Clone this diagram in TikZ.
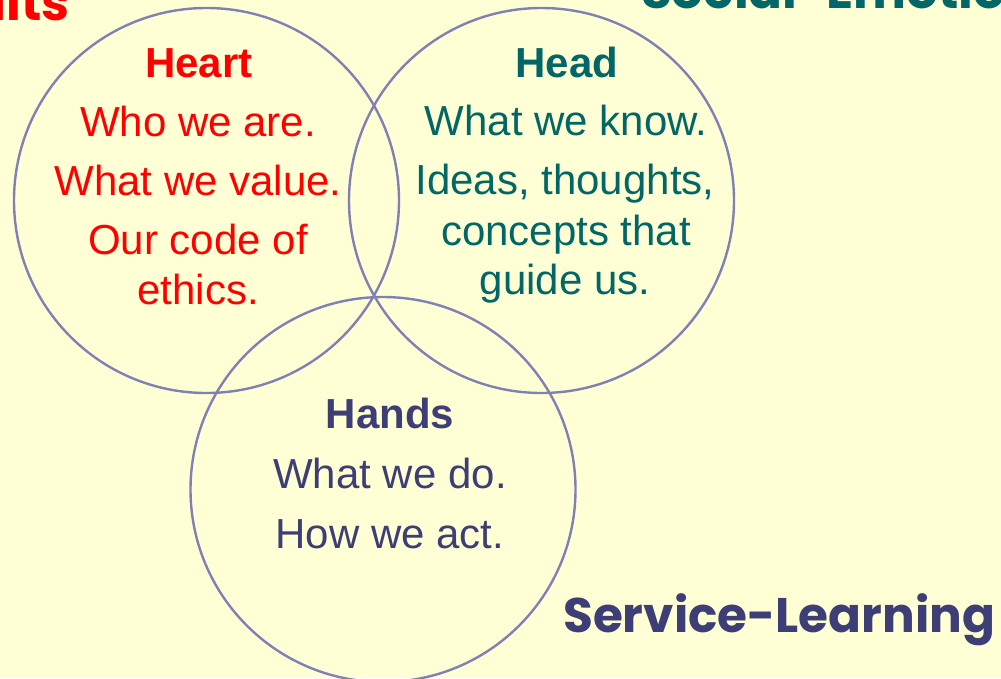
\documentclass[tikz,border=0pt]{standalone}
\usepackage{fontspec}
\setmainfont{Liberation Sans}
\newfontfamily\comicfont{Poppins}
\definecolor{bgyellow}{RGB}{255,255,213}
\definecolor{ringcol}{RGB}{128,128,180}
\definecolor{heartred}{RGB}{255,0,0}
\definecolor{headteal}{RGB}{0,102,102}
\definecolor{handsblue}{RGB}{62,62,118}
\tikzset{
  ring/.style={circle, draw=ringcol, line width=2.4pt, minimum size=385pt, inner sep=0pt},
  txt/.style={anchor=base, inner sep=0pt, font=\fontsize{42}{48}\selectfont},
  ttl/.style={txt, font=\fontsize{42}{48}\selectfont\bfseries},
  big/.style={inner sep=0pt, font=\fontsize{50}{56}\selectfont\comicfont\bfseries},
}
\begin{document}
\begin{tikzpicture}[x=1pt,y=-1pt]
\fill[bgyellow] (0,0) rectangle (1001,678);
\useasboundingbox (0,0) rectangle (1001,678);
\begin{scope}
\clip (0,0) rectangle (1001,678);
\node[ring] (heartc) at (206.5,200.5) {};
\node[ring] (headc) at (541.5,200.5) {};
\node[ring] (handsc) at (383,489.5) {};
\node[big, text=heartred, anchor=base east] (traits) at (70,20) {aits};
\node[big, text=headteal, anchor=base west] (social) at (641,8) {Social-Emotional};
\end{scope}
% Heart
\node[ttl, text=heartred] (heart) at (199,77) {Heart};
\node[txt, text=heartred] (h1) at (198,136) {Who we are.};
\node[txt, text=heartred] (h2) at (198,195) {What we value.};
\node[txt, text=heartred] (h3) at (198,254) {Our code of};
\node[txt, text=heartred] (h4) at (198,304) {ethics.};
% Head
\node[ttl, text=headteal] (head) at (567,77) {Head};
\node[txt, text=headteal] (d1) at (566,135) {What we know.};
\node[txt, text=headteal] (d2) at (565,194) {Ideas, thoughts,};
\node[txt, text=headteal] (d3) at (566,245) {concepts that};
\node[txt, text=headteal] (d4) at (565,294) {guide us.};
% Hands
\node[ttl, text=handsblue] (hands) at (390,428) {Hands};
\node[txt, text=handsblue] (a1) at (390,488) {What we do.};
\node[txt, text=handsblue] (a2) at (390,548) {How we act.};
% Service-Learning
\node[inner sep=0pt, text=handsblue, anchor=base west] (service) at (563,632)
  {\resizebox{432pt}{!}{\fontsize{50}{56}\selectfont\comicfont\bfseries Service-Learning}};
\end{tikzpicture}
\end{document}
